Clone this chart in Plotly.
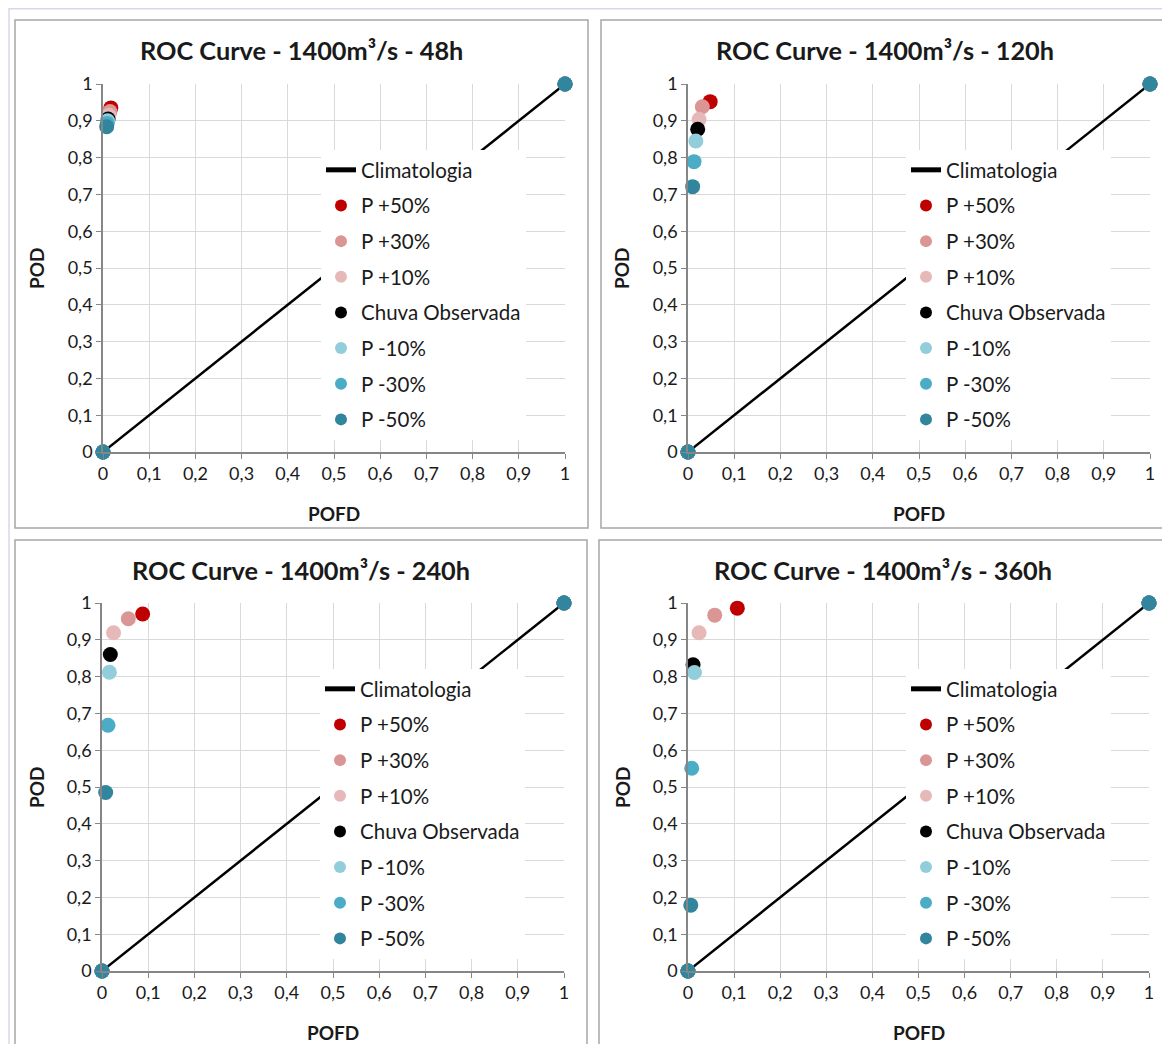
import plotly.graph_objects as go

W, H = 1162, 1036   # figure size (page body adds an 8px margin)
OFF = 8

series_names = ["P +50%", "P +30%", "P +10%", "Chuva Observada", "P -10%", "P -30%", "P -50%"]
series_colors = ["#C00000", "#DA9694", "#E6B9B8", "#000000", "#92CDDC", "#4BACC6", "#31859C"]

titles = ["ROC Curve - 1400m³/s - 48h", "ROC Curve - 1400m³/s - 120h",
          "ROC Curve - 1400m³/s - 240h", "ROC Curve - 1400m³/s - 360h"]

pofd_48h = [0.017, 0.015, 0.013, 0.011, 0.010, 0.009, 0.008]
pod_48h = [0.935, 0.925, 0.915, 0.905, 0.900, 0.893, 0.884]
pofd_120h = [0.048, 0.031, 0.024, 0.021, 0.017, 0.013, 0.010]
pod_120h = [0.952, 0.938, 0.904, 0.877, 0.845, 0.789, 0.721]
pofd_240h = [0.088, 0.057, 0.025, 0.018, 0.016, 0.013, 0.008]
pod_240h = [0.970, 0.957, 0.919, 0.860, 0.812, 0.668, 0.485]
pofd_360h = [0.107, 0.058, 0.024, 0.011, 0.014, 0.008, 0.006]
pod_360h = [0.986, 0.967, 0.919, 0.832, 0.811, 0.551, 0.179]

clim_x = [0, 1]
clim_y = [0, 1]

tick_vals = [0, 0.1, 0.2, 0.3, 0.4, 0.5, 0.6, 0.7, 0.8, 0.9, 1]
tick_text = ["0", "0,1", "0,2", "0,3", "0,4", "0,5", "0,6", "0,7", "0,8", "0,9", "1"]

panels_x = [pofd_48h, pofd_120h, pofd_240h, pofd_360h]
panels_y = [pod_48h, pod_120h, pod_240h, pod_360h]

# screen-pixel layout of each panel: plot area (left, right, top, bottom), box (left, right, top, bottom)
plot_px = [(103, 565, 84, 452), (688, 1150, 84, 452), (102, 564, 603, 971), (688, 1149, 603, 971)]
box_px = [(15, 588, 20, 528), (601, 1190, 20, 528), (15, 587, 540, 1070), (599, 1190, 540, 1070)]

FONT = "Lato, Carlito, Calibri, sans-serif"
TXT = "#1a1a1a"

def px_x(p):
    return (p - OFF) / W

def px_y(p):
    return 1 - (p - OFF) / H

fig = go.Figure()
layout = dict(width=W, height=H, margin=dict(l=0, r=0, t=0, b=0, pad=0, autoexpand=False),
              paper_bgcolor="white", plot_bgcolor="white", showlegend=True,
              font=dict(family=FONT, color=TXT))
shapes = []
annotations = []

# outer light frame
shapes.append(dict(type="rect", xref="paper", yref="paper", x0=px_x(9), x1=px_x(1220),
                   y0=px_y(1100), y1=px_y(8.7), line=dict(color="#D5D9EA", width=1.5), layer="below"))

for i in range(4):
    n = i + 1
    xa = "x" if n == 1 else f"x{n}"
    ya = "y" if n == 1 else f"y{n}"
    lg = "legend" if n == 1 else f"legend{n}"
    l, r, t, b = plot_px[i]
    bl, br, bt, bb = box_px[i]

    fig.add_trace(go.Scatter(x=clim_x, y=clim_y, mode="lines", name="Climatologia",
                             line=dict(color="black", width=2.5), xaxis=xa, yaxis=ya,
                             legend=lg, legendgroup=f"c{n}", cliponaxis=False))
    for k in range(7):
        fig.add_trace(go.Scatter(x=[0, panels_x[i][k], 1], y=[0, panels_y[i][k], 1],
                                 mode="markers", name=series_names[k],
                                 marker=dict(color=series_colors[k], size=15),
                                 xaxis=xa, yaxis=ya, legend=lg, legendgroup=f"g{n}_{k}",
                                 cliponaxis=False))

    axkey = "xaxis" if n == 1 else f"xaxis{n}"
    aykey = "yaxis" if n == 1 else f"yaxis{n}"
    common = dict(range=[0, 1], tickvals=tick_vals, ticktext=tick_text,
                  showgrid=True, gridcolor="#D9D9D9", gridwidth=1,
                  showline=True, linecolor="#868686", linewidth=1.5,
                  ticks="outside", ticklen=5, tickcolor="#868686",
                  tickfont=dict(size=18, family=FONT, color=TXT), zeroline=False,
                  fixedrange=True, automargin=False)
    layout[axkey] = dict(domain=[px_x(l), px_x(r)], anchor=ya, **common)
    layout[aykey] = dict(domain=[px_y(b), px_y(t)], anchor=xa, **common)
    layout[lg] = dict(x=px_x(l + 218), y=px_y(t + 66), xanchor="left", yanchor="top",
                      bgcolor="rgba(255,255,255,1)", font=dict(size=20.5, family=FONT, color=TXT),
                      tracegroupgap=6, itemsizing="constant", traceorder="grouped")

    shapes.append(dict(type="rect", xref="paper", yref="paper", x0=px_x(bl), x1=px_x(br),
                       y0=px_y(bb), y1=px_y(bt), line=dict(color="#A6A6A6", width=1.5),
                       layer="below"))
    cx = (bl + min(br, 1168)) / 2
    annotations.append(dict(text=f"<b>{titles[i]}</b>", xref="paper", yref="paper",
                            x=px_x(cx), y=px_y(bt + 30), xanchor="center", yanchor="middle",
                            showarrow=False, font=dict(size=25.3, family=FONT, color=TXT)))
    annotations.append(dict(text="<b>POFD</b>", xref="paper", yref="paper",
                            x=px_x((l + r) / 2), y=px_y(b + 61), xanchor="center", yanchor="middle",
                            showarrow=False, font=dict(size=19, family=FONT, color=TXT)))
    annotations.append(dict(text="<b>POD</b>", xref="paper", yref="paper",
                            x=px_x(l - 66), y=px_y((t + b) / 2), xanchor="center", yanchor="middle",
                            textangle=-90, showarrow=False,
                            font=dict(size=19, family=FONT, color=TXT)))

layout["shapes"] = shapes
layout["annotations"] = annotations
fig.update_layout(**layout)
fig.write_html("out.html")
